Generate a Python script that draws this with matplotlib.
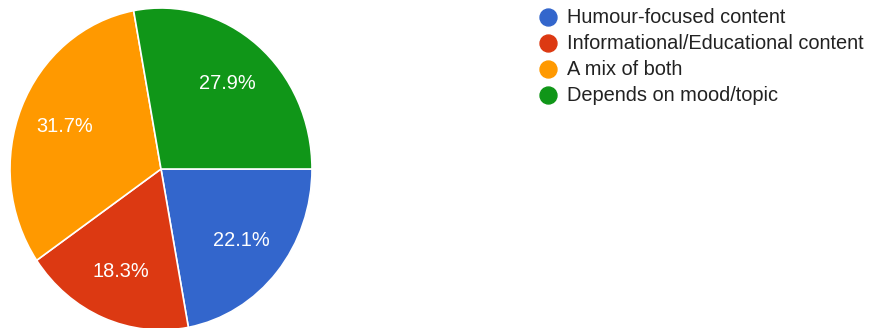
import matplotlib.pyplot as plt
from matplotlib.lines import Line2D

plt.rcParams['font.family'] = ['Liberation Sans', 'DejaVu Sans']

# Survey answers, in drawing order (clockwise from 3 o'clock)
labels = ['Humour-focused content', 'Informational/Educational content',
          'A mix of both', 'Depends on mood/topic']
shares = [22.1, 18.3, 31.7, 27.9]
colors = ['#3366cc', '#dc3912', '#ff9900', '#109618']

fig = plt.figure(figsize=(8.69, 3.28), dpi=100)
fig.patch.set_facecolor('white')

# pie axes: slightly taller than wide, bottom runs off the canvas
ax = fig.add_axes([10 / 869, -2 / 328, 302 / 869, 322 / 328])
wedges, texts, autotexts = ax.pie(
    shares, colors=colors, startangle=0, counterclock=False,
    autopct='%.1f%%', pctdistance=0.69,
    wedgeprops=dict(edgecolor='white', linewidth=1.2),
    textprops=dict(color='white', fontsize=14.4))
ax.set_aspect('auto')
ax.set_xlim(-1, 1)
ax.set_ylim(-1, 1)
ax.axis('off')

# legend on the right
for i, (lab, col) in enumerate(zip(labels, colors)):
    y = 1 - (17.3 + 26 * i) / 328
    fig.add_artist(Line2D([548 / 869], [y], marker='o', markersize=12.2,
                          color=col, linestyle='none',
                          transform=fig.transFigure))
    fig.text(567 / 869, y, lab, fontsize=14.4, color='#222222', va='center')

fig.savefig('out.png', dpi=100)
